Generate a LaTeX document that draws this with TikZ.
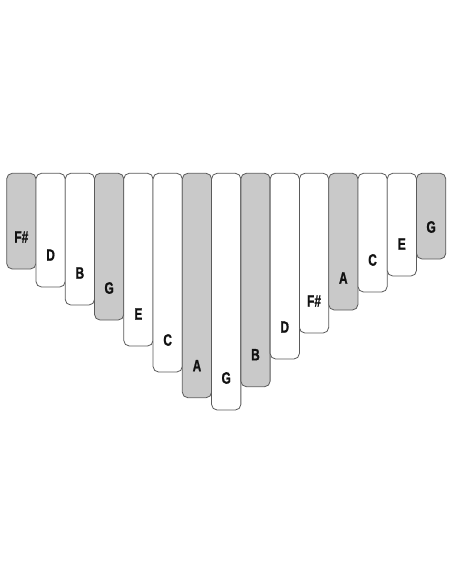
\documentclass[tikz,border=0pt]{standalone}
\usepackage{fontspec}
\setmainfont{Liberation Sans}
\newfontface\notefont{Liberation Sans Bold}[FakeBold=1.2]
\definecolor{keygray}{HTML}{C9C9C9}
\definecolor{keyline}{HTML}{5A5A5A}
\definecolor{labcol}{HTML}{111111}
\newcommand{\notetxt}[1]{\scalebox{0.72}[1]{\fontsize{16.5}{16.5}\notefont #1}}
\begin{document}
\begin{tikzpicture}[x=1pt,y=-1pt,
  keybox/.style={draw=keyline,line width=0.8pt,rounded corners=5.5pt,inner sep=0pt,outer sep=0pt,minimum width=29.27pt,anchor=north},
  whitekey/.style={keybox,fill=white},
  graykey/.style={keybox,fill=keygray},
  notelab/.style={text=labcol,inner sep=0pt}]
\useasboundingbox (0,0) rectangle (452,584);
\foreach \i/\b/\s/\t in {1/269/graykey/F\#,2/287/whitekey/D,3/305/whitekey/B,4/320/graykey/G,5/346/whitekey/E,6/372/whitekey/C,7/397.7/graykey/A,8/410/whitekey/G,9/386.7/graykey/B,10/359/whitekey/D,11/333/whitekey/F\#,12/310/graykey/A,13/292/whitekey/C,14/276/whitekey/E,15/259/graykey/G}{
  \pgfmathsetmacro{\cx}{6.7+(\i-0.5)*29.27}
  \pgfmathsetmacro{\hh}{\b-173.3}
  \node[\s,minimum height=\hh pt] (k\i) at (\cx,173.3) {};
  \node[notelab] (l\i) at ([yshift=32pt]k\i.south) {\notetxt{\t}};
}
\end{tikzpicture}
\end{document}
